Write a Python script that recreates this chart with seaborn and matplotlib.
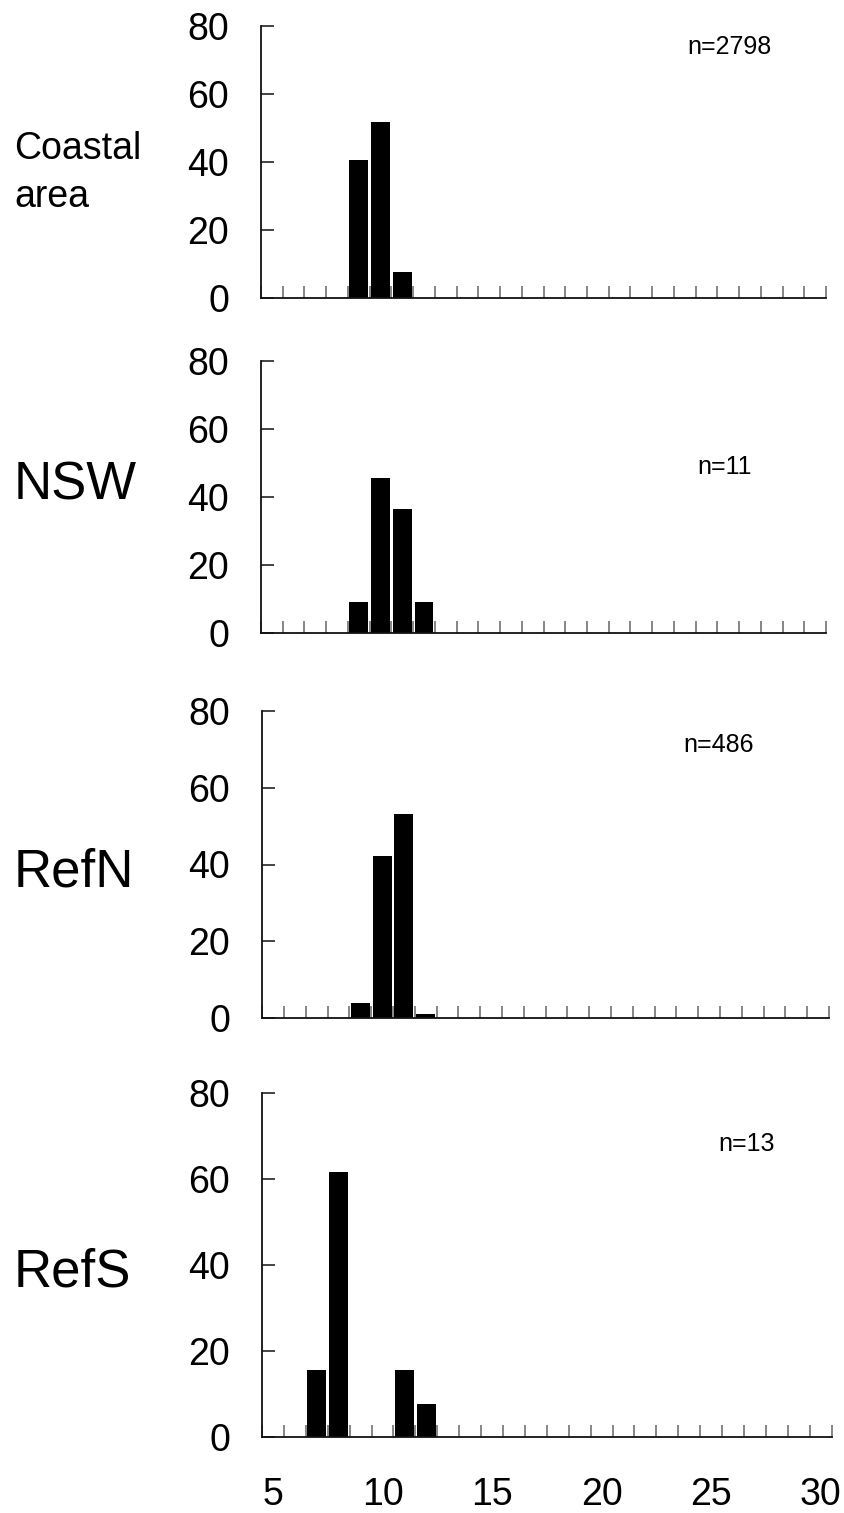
import numpy as np
import pandas as pd
import matplotlib
matplotlib.use("Agg")
import matplotlib.pyplot as plt
import seaborn as sns

# ---- data ----
categories = list(range(5, 31))
panel_labels = [["Coastal", "area"], ["NSW"], ["RefN"], ["RefS"]]
sample_sizes = ["n=2798", "n=11", "n=486", "n=13"]

coastal_x = [9, 10, 11]
coastal_pct = [40.5, 51.8, 7.7]
nsw_x = [9, 10, 11, 12]
nsw_pct = [9.1, 45.5, 36.4, 9.1]
refn_x = [9, 10, 11, 12]
refn_pct = [3.9, 42.3, 53.1, 1.2]
refs_x = [7, 8, 11, 12]
refs_pct = [15.4, 61.5, 15.4, 7.7]

y_ticks = [0, 20, 40, 60, 80]
x_tick_labels = [5, 10, 15, 20, 25, 30]

series = [(coastal_x, coastal_pct), (nsw_x, nsw_pct), (refn_x, refn_pct), (refs_x, refs_pct)]

# ---- style ----
sns.set_style("white")
plt.rcParams["font.family"] = ["Liberation Sans", "DejaVu Sans"]
plt.rcParams["text.color"] = "black"
plt.rcParams["xtick.labelcolor"] = "black"
plt.rcParams["ytick.labelcolor"] = "black"

W, H = 845, 1513
fig = plt.figure(figsize=(W / 100, H / 100), dpi=100)

# axes boxes in pixels: left, right, top(80), bottom(0)
boxes = [
    (261, 826, 26, 298.3),
    (261, 826, 360.7, 632.7),
    (262.3, 829, 710.7, 1018.3),
    (262, 831.7, 1092.7, 1436.7),
]
# label positions (pixels): baselines for panel labels
label_baselines = [[159, 206.7], [500], [886.7], [1286.7]]
label_sizes = [27, 38, 38, 38]
n_pos = [(687, 54.3), (697, 474), (683, 751.7), (718, 1151)]

for i, ((xs, ps), (l, r, t, b)) in enumerate(zip(series, boxes)):
    ax = fig.add_axes([l / W, 1 - b / H, (r - l) / W, (b - t) / H])
    lookup = dict(zip(xs, ps))
    df = pd.DataFrame({"size": categories,
                       "pct": [lookup.get(c, 0.0) for c in categories]})
    sns.barplot(data=df, x="size", y="pct", order=categories, color="black",
                saturation=1, width=0.87, linewidth=0, edgecolor="none",
                errorbar=None, ax=ax)
    ax.set_xlim(-0.5, len(categories) - 0.5)
    ax.set_ylim(0, 80)
    ax.set_xlabel("")
    ax.set_ylabel("")
    for s in ["top", "right"]:
        ax.spines[s].set_visible(False)
    for s in ["left", "bottom"]:
        ax.spines[s].set_color("#111111")
        ax.spines[s].set_linewidth(1.3)

    ax.set_yticks(y_ticks)
    ax.set_yticklabels([str(v) for v in y_ticks])
    ax.tick_params(axis="y", direction="in", length=9, width=1.1, color="#111111",
                   pad=23, labelsize=27, left=True, labelcolor="black")

    ax.set_xticks(np.arange(-0.5, len(categories), 1.0))
    ax.set_xticklabels([])
    ax.tick_params(axis="x", which="major", direction="in", length=9, width=1.1,
                   color="#666666", bottom=True)
    if i == len(series) - 1:
        pos = [categories.index(v) for v in x_tick_labels]
        ax.set_xticks(pos, [str(v) for v in x_tick_labels], minor=True)
        ax.tick_params(axis="x", which="minor", length=0, pad=29, labelsize=27,
                       labelcolor="black")

    # panel label
    for txt, yb in zip(panel_labels[i], label_baselines[i]):
        fig.text(14 / W, 1 - yb / H, txt, fontsize=label_sizes[i],
                 ha="left", va="baseline", color="black")
    nx, ny = n_pos[i]
    fig.text(nx / W, 1 - ny / H, sample_sizes[i], fontsize=18,
             ha="left", va="baseline", color="black")

fig.savefig("out.png", dpi=100)
